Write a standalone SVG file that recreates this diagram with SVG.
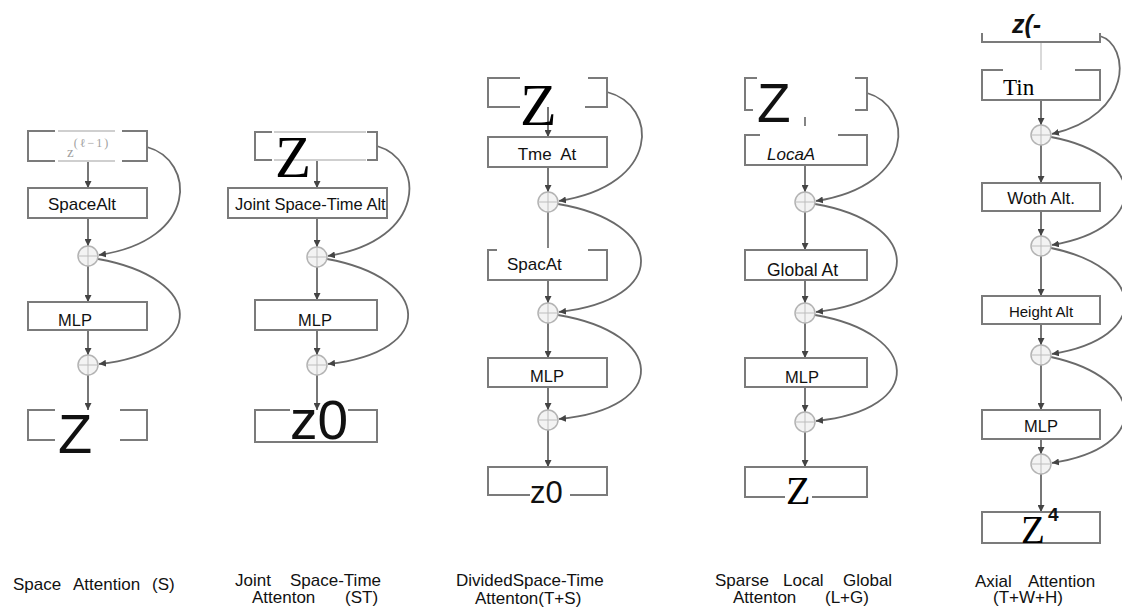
<svg xmlns="http://www.w3.org/2000/svg" width="1122" height="612" viewBox="0 0 1122 612">
<defs>
<marker id="ah" viewBox="0 0 8 8" refX="8" refY="4" markerWidth="7" markerHeight="7" markerUnits="userSpaceOnUse" orient="auto">
<path d="M0,0 L8,4 L0,8 z" fill="#444"/>
</marker>
</defs>
<style>
.box{fill:#fff;stroke:#7b7b7b;stroke-width:2}
.edge{fill:none;stroke:#7b7b7b;stroke-width:2}
.faint{fill:none;stroke:#cfcfcf;stroke-width:2}
.v{fill:none;stroke:#555;stroke-width:1.6;marker-end:url(#ah)}
.vn{fill:none;stroke:#666;stroke-width:1.6}
.vf{fill:none;stroke:#d0d0d0;stroke-width:1.6}
.skip{fill:none;stroke:#6a6a6a;stroke-width:1.8;marker-end:url(#ah)}
.pc{fill:#f3f3f3;stroke:#b3b3b3;stroke-width:1.5}
.pl{stroke:#bdbdbd;stroke-width:1}
.t{font-family:"Liberation Sans",Arial,sans-serif;fill:#111}
.s{font-family:"Liberation Serif","Times New Roman",serif;fill:#000}
.lbl{font-family:"Liberation Sans",Arial,sans-serif;font-size:17px;fill:#111}
</style>
<rect width="1122" height="612" fill="#fff"/>

<g id="connectors">
<!-- column 1 -->
<path class="v" d="M88,161 V188"/>
<path class="v" d="M88,218 V246"/>
<path class="v" d="M88,266 V302"/>
<path class="v" d="M88,330 V355"/>
<path class="v" d="M88,375 V410"/>
<path class="skip" d="M147,147 C195,160 200,240 99,255"/>
<path class="skip" d="M98,259 C205,278 209,352 99,364"/>
<!-- column 2 -->
<path class="v" d="M317,160 V188"/>
<path class="v" d="M317,218 V247"/>
<path class="v" d="M317,267 V300"/>
<path class="v" d="M317,330 V355"/>
<path class="v" d="M317,375 V410"/>
<path class="skip" d="M377,146 C425,160 428,240 328,256"/>
<path class="skip" d="M327,259 C432,278 438,352 328,364"/>
<!-- column 3 -->
<path class="v" d="M548,107 V137"/>
<path class="v" d="M548,167 V192"/>
<path class="vn" d="M548,212 V248"/>
<path class="v" d="M548,280 V303"/>
<path class="v" d="M548,323 V358"/>
<path class="v" d="M548,387 V410"/>
<path class="v" d="M548,430 V467"/>
<path class="skip" d="M607,92 C658,105 662,185 559,201"/>
<path class="skip" d="M558,204 C666,222 671,300 559,312"/>
<path class="skip" d="M558,315 C666,333 671,408 559,419"/>
<!-- column 4 -->
<path class="vn" d="M805,117 V126"/>
<path class="v" d="M805,165 V192"/>
<path class="v" d="M805,212 V250"/>
<path class="v" d="M805,280 V303"/>
<path class="v" d="M805,323 V358"/>
<path class="v" d="M805,387 V412"/>
<path class="v" d="M805,432 V467"/>
<path class="skip" d="M867,93 C913,106 918,185 816,201"/>
<path class="skip" d="M815,204 C921,222 927,300 816,312"/>
<path class="skip" d="M815,315 C921,333 927,410 816,421"/>
<!-- column 5 -->
<path class="vf" d="M1041,42 V70"/>
<path class="v" d="M1041,100 V125"/>
<path class="v" d="M1041,145 V183"/>
<path class="v" d="M1041,211 V236"/>
<path class="v" d="M1041,256 V296"/>
<path class="v" d="M1041,324 V345"/>
<path class="v" d="M1041,365 V410"/>
<path class="v" d="M1041,439 V454"/>
<path class="v" d="M1041,474 V512"/>
<path class="skip" d="M1100,36 C1130,45 1134,115 1052,134"/>
<path class="skip" d="M1051,137 C1147,155 1152,228 1052,245"/>
<path class="skip" d="M1051,248 C1147,268 1152,338 1052,354"/>
<path class="skip" d="M1051,357 C1147,378 1152,448 1052,463"/>
</g>

<!-- Column 1: Space Attention -->
<g id="c1-input">
<path class="faint" d="M58,131 H115 M58,161 H115"/>
<path class="edge" d="M55,131 H28 V161 H55 M122,131 H147 V161 H122"/>
<text class="s" x="67" y="157" font-size="15" style="fill:#a0a0a0">z<tspan font-size="12" dy="-10" letter-spacing="2">(ℓ−1)</tspan></text>
</g>
<g id="c1-space-attn">
<rect class="box" x="28" y="188" width="119" height="30"/>
<text class="t" x="82" y="210" font-size="17" text-anchor="middle">SpaceAlt</text>
</g>
<g id="c1-add1"><circle class="pc" cx="88" cy="256" r="10"/><path class="pl" d="M78,256 H98 M88,246 V266"/></g>
<g id="c1-mlp">
<rect class="box" x="28" y="302" width="119" height="28"/>
<text class="t" x="75" y="326" font-size="16.5" text-anchor="middle">MLP</text>
</g>
<g id="c1-add2"><circle class="pc" cx="88" cy="365" r="10"/><path class="pl" d="M78,365 H98 M88,355 V375"/></g>
<g id="c1-output">
<path class="edge" d="M55,410 H28 V440 H55 M120,410 H147 V440 H120"/>
<text class="t" x="58" y="453" font-size="56">Z</text>
</g>

<!-- Column 2: Joint Space-Time -->
<g id="c2-input">
<path class="faint" d="M274,132 H366 M274,160 H366"/>
<path class="edge" d="M272,132 H255 V160 H272 M367,132 H377 V160 H367"/>
<text class="s" x="275" y="177" font-size="59">Z</text>
</g>
<g id="c2-joint-attn">
<rect class="box" x="228" y="188" width="159" height="30"/>
<text class="t" x="235" y="210" font-size="16.5">Joint Space-Time Alt</text>
</g>
<g id="c2-add1"><circle class="pc" cx="317" cy="257" r="10"/><path class="pl" d="M307,257 H327 M317,247 V267"/></g>
<g id="c2-mlp">
<rect class="box" x="255" y="300" width="122" height="30"/>
<text class="t" x="315" y="326" font-size="16.5" text-anchor="middle">MLP</text>
</g>
<g id="c2-add2"><circle class="pc" cx="317" cy="365" r="10"/><path class="pl" d="M307,365 H327 M317,355 V375"/></g>
<g id="c2-output">
<path class="edge" d="M290,410 H255 V442 H377 V410 H348"/>
<text class="t" x="290" y="439" font-size="55">z0</text>
</g>

<!-- Column 3: Divided Space-Time -->
<g id="c3-input">
<path class="edge" d="M520,78 H488 V107 H520 M588,78 H607 V107 H585"/>
<text class="s" x="520" y="125" font-size="60">Z</text>
</g>
<g id="c3-time-attn">
<rect class="box" x="488" y="137" width="119" height="30"/>
<text class="t" x="547" y="160" font-size="17" text-anchor="middle" xml:space="preserve">Tme  At</text>
</g>
<g id="c3-add1"><circle class="pc" cx="548" cy="202" r="10"/><path class="pl" d="M538,202 H558 M548,192 V212"/></g>
<g id="c3-space-attn">
<path class="edge" d="M497,250 H488 V280 H607 V250 H588"/>
<text class="t" x="507" y="270" font-size="17">SpacAt</text>
</g>
<g id="c3-add2"><circle class="pc" cx="548" cy="313" r="10"/><path class="pl" d="M538,313 H558 M548,303 V323"/></g>
<g id="c3-mlp">
<rect class="box" x="488" y="358" width="119" height="29"/>
<text class="t" x="547" y="382" font-size="16.5" text-anchor="middle">MLP</text>
</g>
<g id="c3-add3"><circle class="pc" cx="548" cy="420" r="10"/><path class="pl" d="M538,420 H558 M548,410 V430"/></g>
<g id="c3-output">
<path class="edge" d="M530,495 H488 V467 H607 V495 H570"/>
<text class="t" x="530" y="503" font-size="31">z0</text>
</g>

<!-- Column 4: Sparse Local Global -->
<g id="c4-input">
<path class="edge" d="M757,78 H745 V110 H753 M855,78 H867 V110 H855"/>
<text class="t" x="757" y="122" font-size="55">Z</text>
</g>
<g id="c4-local-attn">
<path class="edge" d="M760,135 H745 V165 H867 V135 H838"/>
<text class="t" x="767" y="160" font-size="17" font-style="italic">LocaA</text>
</g>
<g id="c4-add1"><circle class="pc" cx="805" cy="202" r="10"/><path class="pl" d="M795,202 H815 M805,192 V212"/></g>
<g id="c4-global-attn">
<rect class="box" x="745" y="250" width="122" height="30"/>
<text class="t" x="767" y="276" font-size="17.5">Global At</text>
</g>
<g id="c4-add2"><circle class="pc" cx="805" cy="313" r="10"/><path class="pl" d="M795,313 H815 M805,303 V323"/></g>
<g id="c4-mlp">
<rect class="box" x="745" y="358" width="122" height="29"/>
<text class="t" x="802" y="383" font-size="16.5" text-anchor="middle">MLP</text>
</g>
<g id="c4-add3"><circle class="pc" cx="805" cy="422" r="10"/><path class="pl" d="M795,422 H815 M805,412 V432"/></g>
<g id="c4-output">
<path class="edge" d="M785,497 H745 V467 H867 V497 H812"/>
<text class="s" x="786" y="504" font-size="40">Z</text>
</g>

<!-- Column 5: Axial Attention -->
<g id="c5-input">
<path class="edge" d="M982,33 V42 H1100 V33"/>
<text class="t" x="1012" y="33" font-size="25" font-weight="bold" font-style="italic">z(-</text>
</g>
<g id="c5-time-attn">
<path class="edge" d="M1003,70 H982 V100 H1100 V70 H1075"/>
<text class="s" x="1003" y="95" font-size="23">Tin</text>
</g>
<g id="c5-add1"><circle class="pc" cx="1041" cy="135" r="10"/><path class="pl" d="M1031,135 H1051 M1041,125 V145"/></g>
<g id="c5-width-attn">
<rect class="box" x="982" y="183" width="118" height="28"/>
<text class="t" x="1041" y="204" font-size="17" text-anchor="middle">Woth Alt.</text>
</g>
<g id="c5-add2"><circle class="pc" cx="1041" cy="246" r="10"/><path class="pl" d="M1031,246 H1051 M1041,236 V256"/></g>
<g id="c5-height-attn">
<rect class="box" x="982" y="296" width="118" height="28"/>
<text class="t" x="1041" y="317" font-size="15" text-anchor="middle">Height Alt</text>
</g>
<g id="c5-add3"><circle class="pc" cx="1041" cy="355" r="10"/><path class="pl" d="M1031,355 H1051 M1041,345 V365"/></g>
<g id="c5-mlp">
<rect class="box" x="982" y="410" width="118" height="29"/>
<text class="t" x="1041" y="432" font-size="16.5" text-anchor="middle">MLP</text>
</g>
<g id="c5-add4"><circle class="pc" cx="1041" cy="464" r="10"/><path class="pl" d="M1031,464 H1051 M1041,454 V474"/></g>
<g id="c5-output">
<rect class="box" x="982" y="512" width="118" height="31"/>
<text class="s" x="1021" y="543" font-size="39">Z</text>
<text class="t" x="1048" y="521" font-size="19" font-weight="bold">4</text>
</g>

<g id="labels">
<text class="lbl" y="590"><tspan x="13">Space</tspan><tspan x="73">Attention</tspan><tspan x="152">(S)</tspan></text>
<text class="lbl" y="586"><tspan x="235">Joint</tspan><tspan x="290">Space-Time</tspan></text>
<text class="lbl" y="603"><tspan x="252">Attenton</tspan><tspan x="345">(ST)</tspan></text>
<text class="lbl" y="586" x="456">DividedSpace-Time</text>
<text class="lbl" y="604" x="475">Attenton(T+S)</text>
<text class="lbl" y="586"><tspan x="715">Sparse</tspan><tspan x="783">Local</tspan><tspan x="843">Global</tspan></text>
<text class="lbl" y="603"><tspan x="733">Attenton</tspan><tspan x="825">(L+G)</tspan></text>
<text class="lbl" y="587"><tspan x="975">Axial</tspan><tspan x="1028">Attention</tspan></text>
<text class="lbl" y="603" x="993">(T+W+H)</text>
</g>
</svg>
